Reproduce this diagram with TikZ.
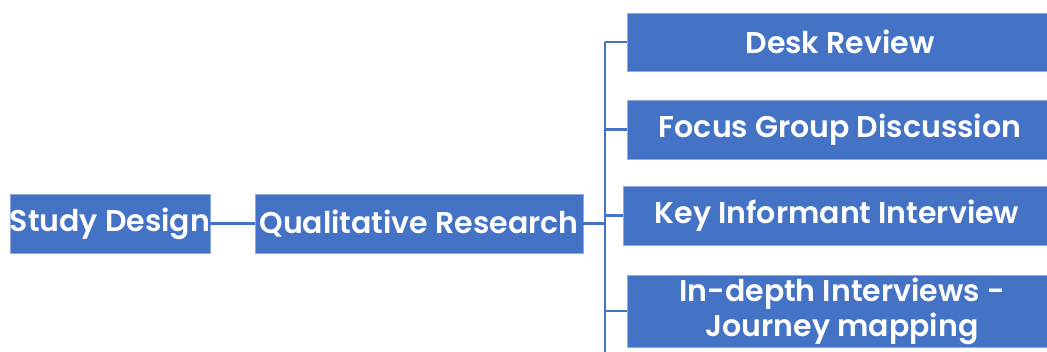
\documentclass[tikz,border=0pt]{standalone}
\usepackage{fontspec}
\setmainfont{Poppins}[BoldFont={* SemiBold}]
\definecolor{obl}{HTML}{4472C4}
\begin{document}
\begin{tikzpicture}[x=1pt,y=-1pt,
  box/.style={draw=obl!60!white,line width=0.6pt,fill=obl,text=white,font=\fontsize{30}{34}\selectfont\bfseries,inner sep=0pt,align=center},
  link/.style={draw=obl,line width=2.2pt}]
\useasboundingbox (0,0) rectangle (1047,352);
\node[box,minimum width=200pt,minimum height=59pt] (sd) at (110,223.5) {Study Design};
\node[box,minimum width=328pt,minimum height=59pt] (qr) at (419,223.5) {Qualitative Research};
\node[box,minimum width=426pt,minimum height=58pt] (dr) at (840,42) {Desk Review};
\node[box,minimum width=426pt,minimum height=59pt] (fg) at (840,129.5) {Focus Group Discussion};
\node[box,minimum width=428pt,minimum height=59pt] (ki) at (837,215.5) {Key Informant Interview};
\node[box,minimum width=430pt,minimum height=72pt,font=\fontsize{30}{35}\selectfont\bfseries] (id) at (842,311) {In-depth Interviews -\\Journey mapping};
\coordinate (tt) at (605,42);
\coordinate (tb) at (605,352);
\draw[link] (sd.east) -- (qr.west);
\draw[link] (qr.east) -- (qr.east -| tt);
\draw[link] (tt) -- (tb);
\draw[link] (dr.west -| tt) -- (dr.west);
\draw[link] (fg.west -| tt) -- (fg.west);
\draw[link] (ki.west -| tt) -- (ki.west);
\draw[link] (id.west -| tt) -- (id.west);
\end{tikzpicture}
\end{document}
